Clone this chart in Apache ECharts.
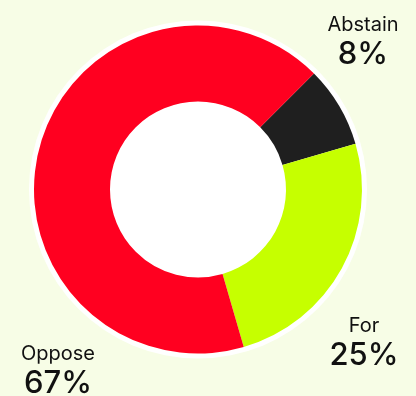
<!DOCTYPE html>
<html><head><meta charset="utf-8">
<script src="https://cdn.jsdelivr.net/npm/echarts@6/dist/echarts.min.js"></script>
<style>html,body{margin:0;padding:0;background:#f7fde6;}#c{width:416px;height:396px;}</style>
</head><body><div id="c"></div>
<script>
const categories = ['Abstain', 'For', 'Oppose'];
const values = [8, 25, 67];
const percentLabels = ['8%', '25%', '67%'];
const colors = ['#1f1f1f', '#c6ff00', '#ff0020'];
const labelPos = [[363, 41], [364, 342], [58, 370]];

const chart = echarts.init(document.getElementById('c'));
chart.setOption({
  backgroundColor: '#f7fde6',
  animation: false,
  graphic: categories.map((c, i) => ({
    type: 'text', x: labelPos[i][0], y: labelPos[i][1], z: 10,
    style: {
      text: '{n|' + c + '}\n{v|' + percentLabels[i] + '}',
      align: 'center', verticalAlign: 'middle',
      rich: {
        n: { fontFamily: 'Inter', fontSize: 20, letterSpacing: 0.5, fill: '#111', lineHeight: 27, align: 'center' },
        v: { fontFamily: 'Inter', fontSize: 31, fontWeight: 500, fill: '#111', lineHeight: 32, align: 'center' }
      }
    }
  })),
  series: [
    {
      type: 'pie', silent: true, center: [198, 189.5], radius: [0, 169],
      label: { show: false }, labelLine: { show: false },
      itemStyle: { color: '#ffffff' }, data: [{ value: 1 }], z: 1
    },
    {
      type: 'pie', center: [198, 189.5], radius: [88, 164], startAngle: 45, clockwise: true,
      z: 2,
      data: categories.map((c, i) => ({ name: c, value: values[i], itemStyle: { color: colors[i] } })),
      labelLine: { show: false },
      label: { show: false }
    }
  ]
});
</script></body></html>
